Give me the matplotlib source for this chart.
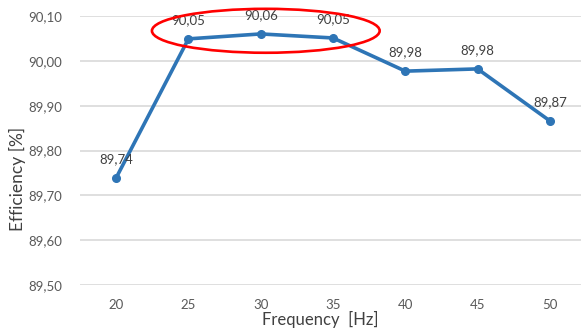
import matplotlib
matplotlib.use("Agg")
import matplotlib.pyplot as plt
from matplotlib.patches import Ellipse

freq = ["20", "25", "30", "35", "40", "45", "50"]
efficiency = [89.739, 90.049, 90.060, 90.051, 89.977, 89.982, 89.866]
y_ticks = [89.50, 89.60, 89.70, 89.80, 89.90, 90.00, 90.10]

plt.rcParams['font.family'] = ['Lato', 'DejaVu Sans']
grey = "#595959"

fig = plt.figure(figsize=(5.81, 3.29), dpi=100)
ax = fig.add_axes([80 / 581, 44 / 329, 501 / 581, 269 / 329])

x = list(range(len(freq)))
ax.plot(x, efficiency, color="#2e75b6", lw=2.6, marker="o", ms=5.5, zorder=3)

for xi, v in zip(x, efficiency):
    ax.annotate(f"{v:.2f}".replace(".", ","), (xi, v), xytext=(0, 9),
                textcoords="offset points", ha="center", va="bottom",
                fontsize=9.5, color="#404040")

# highlight of the plateau
ax.add_patch(Ellipse((2.07, 90.067), 3.15, 0.098, fill=False,
                     edgecolor="red", lw=1.9, zorder=4, clip_on=False))

ax.set_xlim(-0.5, 6.43)
ax.set_ylim(89.5, 90.1)
ax.set_xticks(x)
ax.set_xticklabels(freq)
ax.set_yticks(y_ticks)
ax.set_yticklabels([f"{t:.2f}".replace(".", ",") for t in y_ticks])
ax.tick_params(length=0, colors=grey, labelsize=9.5)
ax.tick_params(axis="x", pad=10)
ax.tick_params(axis="y", pad=13)
for s in ax.spines.values():
    s.set_visible(False)
ax.grid(axis="y", color="#d9d9d9", lw=1.2)
ax.set_axisbelow(True)

fig.text(320 / 581, 10 / 329, "Frequency  [Hz]", ha="center", va="center",
         fontsize=12, color="#404040")
fig.text(17 / 581, 150 / 329, "Efficiency [%]", ha="center", va="center",
         rotation=90, fontsize=12.5, color="#404040")

fig.savefig("out.png", dpi=100)
